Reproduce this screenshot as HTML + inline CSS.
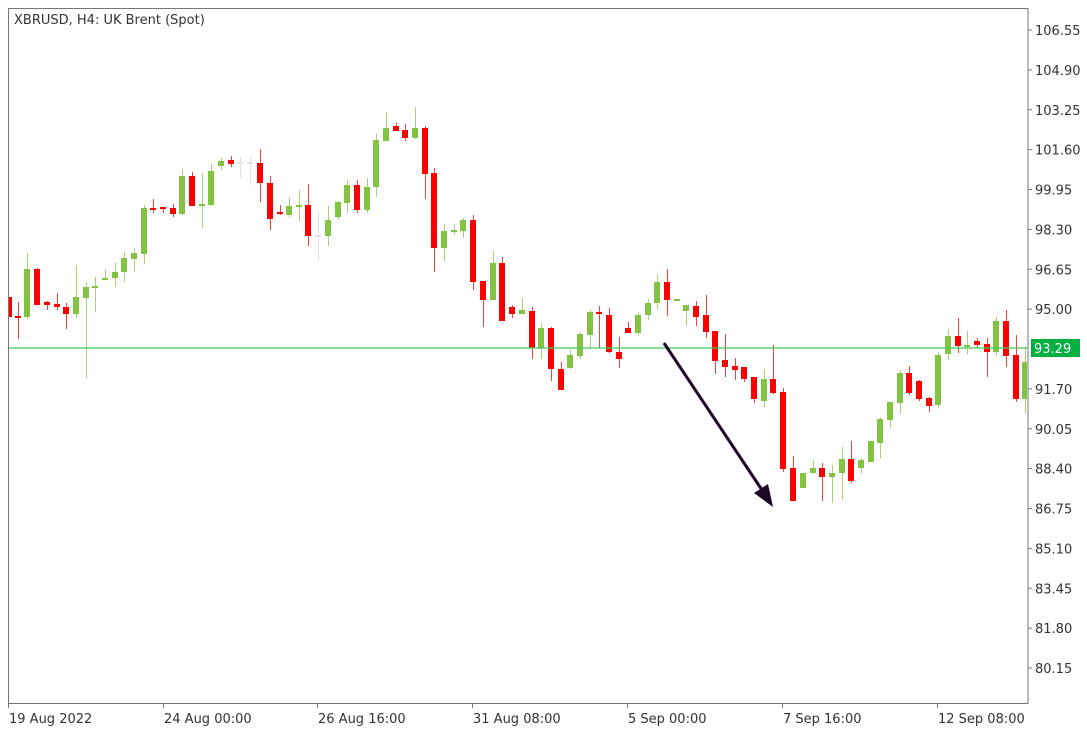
<!DOCTYPE html>
<html><head><meta charset="utf-8"><style>
html,body{margin:0;padding:0;background:#fff;}
svg{display:block;font-family:"DejaVu Sans","Liberation Sans",sans-serif;}
</style></head><body>
<svg id="s" width="1087" height="737" xmlns="http://www.w3.org/2000/svg">
<rect width="1087" height="737" fill="#fff"/>
<g id="c"></g>
<line x1="8" y1="348" x2="1028" y2="348" stroke="#3cc95a" stroke-width="1.3"/>
<line x1="664" y1="343" x2="764" y2="493" stroke="#1a0826" stroke-width="3"/>
<polygon points="773,507 754,493 768,484" fill="#1a0826"/>
<rect x="8.5" y="8.5" width="1019.5" height="695" fill="none" stroke="#777" stroke-width="1"/>
<g id="a" font-size="13" fill="#333"></g>
<rect x="1031" y="339" width="49" height="18" fill="#00b140"/>
<text x="1034" y="353" font-size="13" fill="#fff">93.29</text>
<text x="14" y="24" font-size="13" fill="#333">XBRUSD, H4:  UK Brent (Spot)</text>
</svg>
<script>
var d=[
[9,'r',297,317,297,317],[18,'r',302,339,316,318],[27,'g',253,319,269,317],[37,'r',268,305,269,305],[47,'r',301,310,302,305],[57,'r',293,310,304,307],[66,'r',303,329,307,314],[76,'g',265,318,297,314],[86,'g',282,378,287,298],[95,'g',277,312,286,288],[105,'g',269,280,278,280],[115,'g',263,287,272,278],[124,'g',252,282,258,272],[134,'g',248,272,253,259],[144,'g',205,264,208,254],[153,'r',199,213,208,210],[163,'r',207,213,207,209],[173,'r',204,217,208,214],[182,'g',169,215,176,214],[192,'r',172,206,176,206],[202,'g',173,228,204,205],[211,'g',164,206,171,205],[221,'g',158,170,161,166],[231,'r',156,167,160,164],[240,'n',157,178,162,163],[250,'n',157,185,162,163],[260,'r',149,202,163,183],
[270,'r',176,230,183,219],[280,'r',205,215,212,214],[289,'g',197,217,206,215],[299,'g',190,221,205,207],[308,'r',184,246,205,236],[318,'n',211,261,235,236],[328,'g',206,246,220,236],[338,'g',201,220,202,217],[347,'g',180,213,185,203],[357,'r',180,213,185,210],[367,'g',178,213,187,210],[376,'g',134,197,140,187],[386,'g',112,141,128,141],[396,'r',123,131,126,131],[405,'r',124,141,130,138],[415,'g',107,139,128,138],[425,'r',126,199,128,174],[434,'r',168,272,173,248],[444,'g',224,261,231,248],[454,'g',224,235,230,232],[463,'g',218,238,220,231],[473,'r',215,290,220,282],[483,'r',281,327,281,300],[493,'g',251,300,263,300],[502,'r',257,321,263,321],
[512,'r',305,318,307,314],[522,'g',298,314,310,314],[532,'r',307,359,311,348],[541,'g',323,359,328,348],[551,'r',327,381,328,369],[561,'r',362,390,369,390],[570,'g',350,369,355,368],[580,'g',332,359,334,356],[590,'g',310,348,312,335],[599,'r',306,348,312,314],[609,'r',308,353,315,352],[619,'r',337,368,352,359],[628,'r',322,333,328,333],[638,'g',312,336,315,333],[648,'g',299,320,303,315],[657,'g',275,309,282,303],[667,'r',269,316,282,300],[677,'g',299,300,299,300],[686,'g',305,326,305,311],[696,'r',301,326,306,317],[706,'r',295,338,315,332],[715,'r',331,374,331,361],[725,'r',334,377,360,367],[735,'r',358,380,366,370],[744,'r',367,382,367,379],[754,'r',377,403,377,399],[764,'g',369,407,379,401],[773,'r',345,394,379,393],[783,'r',388,472,392,469],
[793,'r',456,501,468,501],[803,'g',473,488,473,488],[813,'g',460,474,468,473],[822,'r',463,501,468,477],[832,'g',465,503,473,477],[842,'g',447,500,459,473],[851,'r',441,483,459,481],[861,'g',458,473,460,468],[871,'g',441,462,441,462],[880,'g',417,458,419,443],[890,'g',402,428,402,420],[900,'g',370,414,373,403],[909,'r',366,395,373,393],[919,'r',380,401,381,399],[929,'r',397,412,398,406],[938,'g',352,408,355,405],[948,'g',329,360,336,354],[958,'r',318,353,336,346],[967,'g',331,354,345,347],[977,'r',338,348,341,345],[987,'r',338,377,344,352],[996,'g',317,356,321,352],[1006,'r',310,367,321,356],[1016,'r',335,402,355,399],[1025,'g',347,414,362,399]];
var col={r:'#ff0000',g:'#82c341',n:'#dde5dd'},wc={r:'#ff4040',g:'#a5d477',n:'#dde5dd'};
var h='';
d.forEach(function(c){var x=c[0],w=3;var x0=Math.max(9,x-w),x1=Math.min(1027,x+w);
h+='<line x1="'+(x+0.5)+'" y1="'+c[2]+'" x2="'+(x+0.5)+'" y2="'+c[3]+'" stroke="'+wc[c[1]]+'" stroke-width="1"/>';
var bh=Math.max(2,c[5]-c[4]);h+='<rect x="'+x0+'" y="'+c[4]+'" width="'+(x1-x0)+'" height="'+bh+'" fill="'+col[c[1]]+'"/>';});
document.getElementById('c').innerHTML=h;
var a='',p=['106.55','104.90','103.25','101.60','99.95','98.30','96.65','95.00','93.35','91.70','90.05','88.40','86.75','85.10','83.45','81.80','80.15'];
p.forEach(function(t,i){var y=30+i*39.875;if(t!='93.35'){a+='<line x1="1028" y1="'+y+'" x2="1032" y2="'+y+'" stroke="#777"/><text x="1035" y="'+(y+5)+'">'+t+'</text>';}});
var tl=[[8,'19 Aug 2022'],[163,'24 Aug 00:00'],[317,'26 Aug 16:00'],[472,'31 Aug 08:00'],[627,'5 Sep 00:00'],[782,'7 Sep 16:00'],[937,'12 Sep 08:00']];
tl.forEach(function(t){a+='<line x1="'+(t[0]+0.5)+'" y1="703" x2="'+(t[0]+0.5)+'" y2="708" stroke="#777"/><text x="'+(t[0]+1)+'" y="723">'+t[1]+'</text>';});
document.getElementById('a').innerHTML=a;
</script>
</body></html>
